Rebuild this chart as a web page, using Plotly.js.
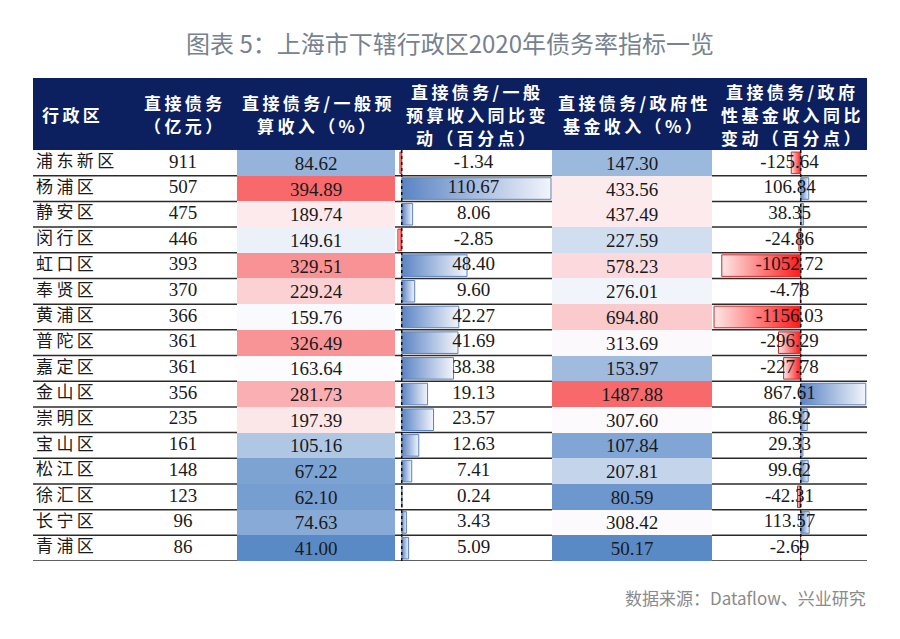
<!DOCTYPE html>
<html>
<head>
<meta charset="utf-8">
<script src="https://cdn.plot.ly/plotly-3.0.1.min.js"></script>
<style>
  body { margin: 0; background: #fff; }
  #chart { width: 900px; height: 639px; }
</style>
</head>
<body>
<div id="chart"></div>
<script>
const districts = ["浦东新区", "杨浦区", "静安区", "闵行区", "虹口区", "奉贤区", "黄浦区", "普陀区",
                   "嘉定区", "金山区", "崇明区", "宝山区", "松江区", "徐汇区", "长宁区", "青浦区"];
const directDebt = [911, 507, 475, 446, 393, 370, 366, 361, 361, 356, 235, 161, 148, 123, 96, 86];
const debtToBudget = [84.62, 394.89, 189.74, 149.61, 329.51, 229.24, 159.76, 326.49,
                      163.64, 281.73, 197.39, 105.16, 67.22, 62.10, 74.63, 41.00];
const budgetChange = [-1.34, 110.67, 8.06, -2.85, 48.40, 9.60, 42.27, 41.69,
                      38.38, 19.13, 23.57, 12.63, 7.41, 0.24, 3.43, 5.09];
const debtToFund = [147.30, 433.56, 437.49, 227.59, 578.23, 276.01, 694.80, 313.69,
                    153.97, 1487.88, 307.60, 107.84, 207.81, 80.59, 308.42, 50.17];
const fundChange = [-125.64, 106.84, 38.35, -24.86, -1052.72, -4.78, -1156.03, -296.29,
                    -227.78, 867.61, 86.92, 29.33, 99.62, -42.31, 113.57, -2.69];
const headers = [
  ["行政区"],
  ["直接债务", "（亿元）"],
  ["直接债务/一般预", "算收入（%）"],
  ["直接债务/一般", "预算收入同比变", "动（百分点）"],
  ["直接债务/政府性", "基金收入（%）"],
  ["直接债务/政府", "性基金收入同比", "变动（百分点）"]
];

const W = 900, H = 639;
const px = v => v / W;
const py = v => 1 - v / H;
const rows = districts.map((_, i) => i);
const numFont = { family: "Liberation Serif, Times New Roman, serif", size: 19, color: "#1a1a1a" };
const cjkFont = { family: "Noto Sans CJK SC", size: 17, color: "#1a1a1a" };

// column layout (pixel edges)
const colEdges = [[36, 130], [130, 236], [237, 395], [395, 552], [552, 712], [712, 867]];
const chgBudgetRange = [-5, 111.4];
const chgFundRange = [-1183, 884];

function median(arr) {
  const s = arr.slice().sort((a, b) => a - b);
  const m = Math.floor(s.length / 2);
  return s.length % 2 ? s[m] : (s[m - 1] + s[m]) / 2;
}

// Excel-style 3 colour scale: min blue, median white, max red
function heatTrace(values, axis) {
  const lo = Math.min(...values), hi = Math.max(...values);
  const mid = (median(values) - lo) / (hi - lo);
  return {
    type: "heatmap",
    xaxis: axis, yaxis: "y",
    x: [0], y: rows,
    z: values.map(v => [v]),
    zmin: lo, zmax: hi,
    colorscale: [[0, "#5a8ac6"], [mid, "#fcfcff"], [1, "#f8696b"]],
    showscale: false,
    texttemplate: "%{z:.2f}",
    textfont: numFont,
    hoverinfo: "skip"
  };
}

// gradient data bars, one polygon per value
function barTraces(values, axis) {
  return values.map((v, i) => {
    const pos = v >= 0;
    const dark = pos ? "#5b84c4" : "#ff1a1a";
    const light = pos ? "#f2f5fb" : "#fde6e6";
    return {
      type: "scatter", mode: "lines",
      xaxis: axis, yaxis: "y",
      x: [0, v, v, 0, 0],
      y: [i - 0.42, i - 0.42, i + 0.42, i + 0.42, i - 0.42],
      fill: "toself",
      fillgradient: {
        type: "horizontal",
        colorscale: pos ? [[0, dark], [1, light]] : [[0, light], [1, dark]]
      },
      line: { color: pos ? "#5b80c0" : "#d02828", width: 1 },
      hoverinfo: "skip", showlegend: false
    };
  });
}

function textTrace(xv, texts, axis, font, pos) {
  return {
    type: "scatter", mode: "text",
    xaxis: axis, yaxis: "y",
    x: rows.map(() => xv), y: rows,
    text: texts,
    textposition: pos || "middle center",
    textfont: font,
    hoverinfo: "skip", showlegend: false, cliponaxis: false
  };
}

const fmt = v => v.toFixed(2);
const spaced = s => s.split("").join("\u2009");

const traces = [
  textTrace(0, districts.map(spaced), "x", cjkFont, "middle right"),
  textTrace(0.5, directDebt.map(String), "x2", numFont),
  heatTrace(debtToBudget, "x3"),
  ...barTraces(budgetChange, "x4"),
  textTrace((chgBudgetRange[0] + chgBudgetRange[1]) / 2, budgetChange.map(fmt), "x4", numFont),
  heatTrace(debtToFund, "x5"),
  ...barTraces(fundChange, "x6"),
  textTrace((chgFundRange[0] + chgFundRange[1]) / 2, fundChange.map(fmt), "x6", numFont)
];

const hiddenAxis = (domain, range) => ({
  domain: domain, range: range, anchor: "y",
  showgrid: false, zeroline: false, showticklabels: false, showline: false,
  ticks: "", fixedrange: true
});

const xRanges = [[0, 1], [0, 1], [-0.5, 0.5], chgBudgetRange, [-0.5, 0.5], chgFundRange];

const layout = {
  width: W, height: H,
  margin: { l: 0, r: 0, t: 0, b: 0 },
  paper_bgcolor: "#ffffff", plot_bgcolor: "rgba(0,0,0,0)",
  showlegend: false,
  yaxis: {
    domain: [py(561), py(150)], range: [15.5, -0.5],
    showgrid: false, zeroline: false, showticklabels: false, ticks: "", fixedrange: true
  },
  shapes: [],
  annotations: []
};
colEdges.forEach((e, k) => {
  const name = k === 0 ? "xaxis" : "xaxis" + (k + 1);
  layout[name] = hiddenAxis([px(e[0]), px(e[1])], xRanges[k]);
});

// header band
layout.shapes.push({
  type: "rect", xref: "paper", yref: "paper",
  x0: px(33), x1: px(867), y0: py(150), y1: py(78),
  fillcolor: "#0c1f5e", line: { width: 0 }, layer: "below"
});
// row separators
rows.forEach(i => {
  layout.shapes.push({
    type: "line", xref: "paper", yref: "y",
    x0: px(33), x1: px(867), y0: i + 0.5, y1: i + 0.5,
    line: { color: "#2b2b2b", width: 1.5 }, layer: "below"
  });
});
// dotted zero axes of the data bars
["x4", "x6"].forEach(ax => {
  layout.shapes.push({
    type: "line", xref: ax, yref: "y",
    x0: 0, x1: 0, y0: -0.5, y1: 15.5,
    line: { color: "#111111", width: 1.5, dash: "dot" }, layer: "above"
  });
});

// header text, one annotation per line
const headerX = [40, 183, 316, 475, 632, 790];
const lineGap = 23;
headers.forEach((lines, k) => {
  const top = 114 - (lines.length - 1) * lineGap / 2;
  lines.forEach((ln, j) => {
    layout.annotations.push({
      xref: "paper", yref: "paper",
      x: px(headerX[k]), y: py(top + j * lineGap),
      xanchor: k === 0 ? "left" : "center", yanchor: "middle",
      text: "<b>" + spaced(ln) + "</b>", showarrow: false,
      font: { family: "Noto Sans CJK SC", size: 17, color: "#ffffff" }
    });
  });
});

layout.annotations.push({
  xref: "paper", yref: "paper", x: px(450), y: py(42),
  xanchor: "center", yanchor: "middle", showarrow: false,
  text: "图表 5：上海市下辖行政区2020年债务率指标一览",
  font: { family: "Noto Sans CJK SC", size: 24, color: "#76828f" }
});
layout.annotations.push({
  xref: "paper", yref: "paper", x: px(868), y: py(597),
  xanchor: "right", yanchor: "middle", showarrow: false,
  text: "数据来源：Dataflow、兴业研究",
  font: { family: "Noto Sans CJK SC", size: 17, color: "#8a8a8a" }
});

Plotly.newPlot("chart", traces, layout, { displayModeBar: false, staticPlot: true });
</script>
</body>
</html>
